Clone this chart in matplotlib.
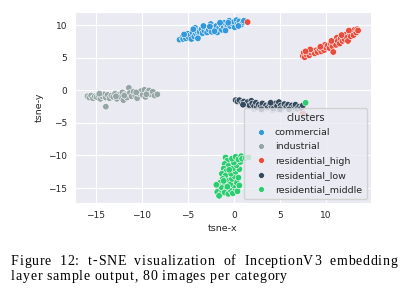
import matplotlib
matplotlib.use("Agg")
import matplotlib.pyplot as plt
import seaborn as sns
import pandas as pd

# ---- data ----
commercial = [(-5.9,7.8),(-5.6,8.1),(-5.5,7.9),(-5.3,8.4),(-5.2,8.0),(-5.0,8.7),(-4.9,8.2),(-4.7,8.5),
              (-4.6,7.9),(-4.5,8.9),(-4.3,8.3),(-4.2,9.6),(-4.1,8.7),(-4.0,9.1),(-3.8,8.4),(-3.7,9.0),
              (-3.5,9.4),(-3.4,8.8),(-3.2,9.2),(-3.0,9.6),(-2.9,8.9),(-2.7,9.3),(-2.5,10.2),(-2.4,9.0),
              (-2.2,9.7),(-2.0,9.4),(-1.9,9.9),(-1.8,8.9),(-1.6,9.6),(-1.4,10.1),(-1.3,9.3),(-1.1,9.8),
              (-1.0,10.4),(-0.8,9.6),(-0.7,10.1),(-0.5,10.7),(-0.4,9.9),(-0.2,10.3),(0.0,10.5),(0.1,9.7),
              (0.3,10.8),(0.4,10.2),(0.6,10.6),(0.8,10.1),(1.0,10.5),(1.1,10.7),(-3.9,8.0),(-2.1,9.1),
              (-0.9,9.2),(-5.4,8.6),(-3.3,9.9),(-1.5,10.4),(-4.4,9.4),(-2.6,9.8),(-0.6,10.4),(0.5,9.9)]
industrial = [(-15.9,-0.9),(-15.7,-1.1),(-15.5,-0.8),(-15.3,-1.2),(-15.1,-0.9),(-14.9,-1.0),(-14.7,-0.7),
              (-14.5,-1.3),(-14.3,-0.9),(-14.1,-0.6),(-13.9,-1.1),(-13.9,-2.5),(-13.7,-0.7),(-13.5,-1.2),
              (-13.3,-0.8),(-13.1,-1.0),(-12.9,-0.5),(-12.7,-1.3),(-12.5,-0.7),(-12.3,-1.0),(-12.1,-0.3),
              (-12.0,-1.5),(-11.8,-0.6),(-11.6,-1.1),(-11.4,0.4),(-11.3,-0.4),(-11.1,-0.9),(-10.9,-0.2),
              (-10.7,-0.8),(-10.5,-1.2),(-10.3,-0.5),(-10.1,-0.1),(-9.9,-0.7),(-9.7,0.1),(-9.6,-1.0),
              (-9.4,-0.3),(-9.2,0.0),(-9.0,-0.6),(-8.8,-0.2),(-8.6,-0.8),(-8.3,-0.6),(-14.6,-0.5),
              (-12.8,-0.9),(-10.6,-0.3),(-9.5,-0.6),(-11.9,-0.8),
              (2.2,-2.9),(3.0,-3.0),(3.6,-2.8),(4.2,-3.1),(4.6,-2.9),(5.2,-3.0),(5.8,-2.8),(6.4,-3.0),
              (7.0,-2.9),(7.3,-3.2),(2.6,-2.6),(5.0,-2.7)]
residential_high = [(7.5,5.3),(7.6,5.8),(7.7,5.1),(7.9,5.5),(8.0,6.0),(8.2,5.4),(8.4,5.8),(8.6,6.1),
                    (8.8,5.7),(9.0,6.2),(9.1,5.9),(9.3,6.4),(9.5,6.0),(9.6,6.5),(9.8,6.2),(9.9,7.0),
                    (10.0,6.6),(10.2,6.9),(10.4,6.5),(10.5,7.2),(10.7,6.8),(10.8,5.9),(10.9,7.4),(11.1,7.0),
                    (11.2,8.1),(11.3,7.6),(11.5,7.2),(11.6,8.0),(11.8,7.6),(11.9,8.4),(12.0,7.9),(12.2,8.6),
                    (12.3,8.1),(12.4,7.6),(12.6,8.8),(12.7,8.3),(12.9,9.0),(13.0,8.5),(13.1,9.3),(13.3,8.9),
                    (13.4,9.4),(13.5,9.2),(8.3,6.3),(9.4,6.7),(10.6,7.6),(11.7,8.5),(12.5,9.2),(7.8,6.0),
                    (1.5,10.5),(7.5,-3.5)]
residential_low = [(0.2,-1.5),(0.4,-1.7),(0.6,-1.5),(0.9,-1.9),(1.1,-1.7),(1.3,-2.1),(1.5,-1.8),(1.7,-2.3),
                   (1.9,-1.6),(2.0,-2.0),(2.2,-2.4),(2.4,-1.9),(2.5,-2.6),(2.7,-2.2),(2.9,-2.5),(3.1,-2.0),
                   (3.3,-2.7),(3.5,-2.3),(3.7,-2.6),(3.9,-2.1),(4.1,-2.5),(4.3,-2.8),(4.5,-2.0),(4.7,-2.4),
                   (4.9,-1.8),(5.1,-2.3),(5.3,-2.6),(5.5,-2.1),(5.7,-2.5),(5.9,-2.2),(6.1,-2.7),(6.3,-2.3),
                   (6.5,-2.6),(6.7,-2.2),(6.9,-2.8),(7.1,-2.5),(7.3,-2.7),(7.5,-2.3),(1.0,-2.2),(3.0,-2.9),
                   (5.0,-2.9),(6.0,-2.9),(4.0,-1.9)]
residential_middle = [(-0.9,-10.3),(-0.7,-10.8),(-1.0,-11.3),(-0.6,-11.6),(-1.1,-12.0),(-0.8,-12.4),
                      (-1.3,-12.8),(-0.9,-13.1),(-1.2,-13.6),(-0.6,-13.9),(-1.5,-14.2),(-1.0,-14.5),
                      (-1.7,-14.7),(-1.3,-15.0),(-0.8,-15.2),(-1.8,-15.6),(-1.4,-15.9),(-1.0,-15.7),
                      (-1.6,-16.2),(-0.6,-15.9),(-0.3,-15.4),(-0.1,-15.8),(0.2,-15.1),(0.4,-15.5),
                      (0.0,-14.6),(-0.4,-14.4),(0.3,-14.1),(-0.2,-13.6),(0.1,-13.2),(0.5,-13.4),
                      (-0.3,-12.8),(0.2,-12.5),(0.6,-12.1),(-0.1,-12.0),(0.3,-11.5),(0.7,-11.0),
                      (0.0,-11.1),(-0.2,-10.5),(0.2,-10.2),(0.5,-10.6),(0.8,-10.1),(-0.5,-12.2),
                      (-0.7,-14.8),(0.6,-14.6),(-1.1,-13.9),(0.9,-10.5),(1.3,-10.4),(1.6,-10.3),
                      (-1.9,-14.5),(7.8,-1.9)]

cluster_names = ["commercial", "industrial", "residential_high", "residential_low", "residential_middle"]
cluster_points = [commercial, industrial, residential_high, residential_low, residential_middle]
palette = ["#3498db", "#95a5a6", "#e74c3c", "#34495e", "#2ecc71"]
xticks = [-15, -10, -5, 0, 5, 10]
yticks = [-15, -10, -5, 0, 5, 10]
caption_line1 = "Figure 12: t-SNE visualization of InceptionV3 embedding"
caption_line2 = "layer sample output, 80 images per category"

rows = []
for name, pts in zip(cluster_names, cluster_points):
    for x, y in pts:
        rows.append({"tsne-x": x, "tsne-y": y, "clusters": name})
df = pd.DataFrame(rows)

sns.set_style("darkgrid")
plt.rcParams['font.family'] = ['DejaVu Sans']

W, H = 405, 297
fig = plt.figure(figsize=(W / 100, H / 100), dpi=100)
ax = fig.add_axes([75 / W, 1 - 203 / H, (371 - 75) / W, (203 - 12) / H])

sns.scatterplot(data=df, x="tsne-x", y="tsne-y", hue="clusters", hue_order=cluster_names,
                palette=palette, s=22, edgecolor="white", linewidth=0.4, ax=ax)
ax.set_xlim(-17.25, 14.9)
ax.set_ylim(-17.3, 12.05)
ax.set_xticks(xticks)
ax.set_yticks(yticks)
ax.tick_params(labelsize=6.5, pad=2)
ax.set_xlabel("tsne-x", fontsize=6.8, labelpad=3)
ax.set_ylabel("tsne-y", fontsize=6.8, labelpad=3)

leg = ax.legend(title="clusters", loc="lower right", fontsize=6.8, title_fontsize=7,
                markerscale=0.9, handlelength=2.5, handletextpad=0.25, labelspacing=0.55,
                borderpad=0.55, borderaxespad=0.4)

# ---- caption: serif; first line justified ----
fs = 10.0
cap_font = "Liberation Serif"
y1 = 1 - 265 / H
y2 = 1 - 280 / H
x_left = 11.0
line1_right = 397.0
line2_right = 287.0
fig.canvas.draw()
renderer = fig.canvas.get_renderer()


def width_of(s):
    t = fig.text(0, 0, s, fontsize=fs, family=cap_font)
    w = t.get_window_extent(renderer).width
    t.remove()
    return w


space_w = width_of("x x") - width_of("xx")
char_w = {}
for ch in set(caption_line1 + caption_line2):
    char_w[ch] = space_w if ch == " " else width_of(ch)

nat2 = sum(char_w[c] for c in caption_line2)
track = max(0.0, (line2_right - x_left - nat2) / (len(caption_line2) - 1))


def draw_line(text, ybase, extra_space):
    x = x_left
    for c in text:
        if c != " ":
            fig.text(x / W, ybase, c, fontsize=fs, family=cap_font, color="black",
                     va="baseline", ha="left")
            x += char_w[c] + track
        else:
            x += char_w[c] + track + extra_space


draw_line(caption_line2, y2, 0.0)
nat1 = sum(char_w[c] for c in caption_line1) + track * (len(caption_line1) - 1)
n_sp = caption_line1.count(" ")
extra1 = max(0.0, (line1_right - x_left - nat1) / n_sp)
draw_line(caption_line1, y1, extra1)

fig.savefig("out.png", dpi=100)
